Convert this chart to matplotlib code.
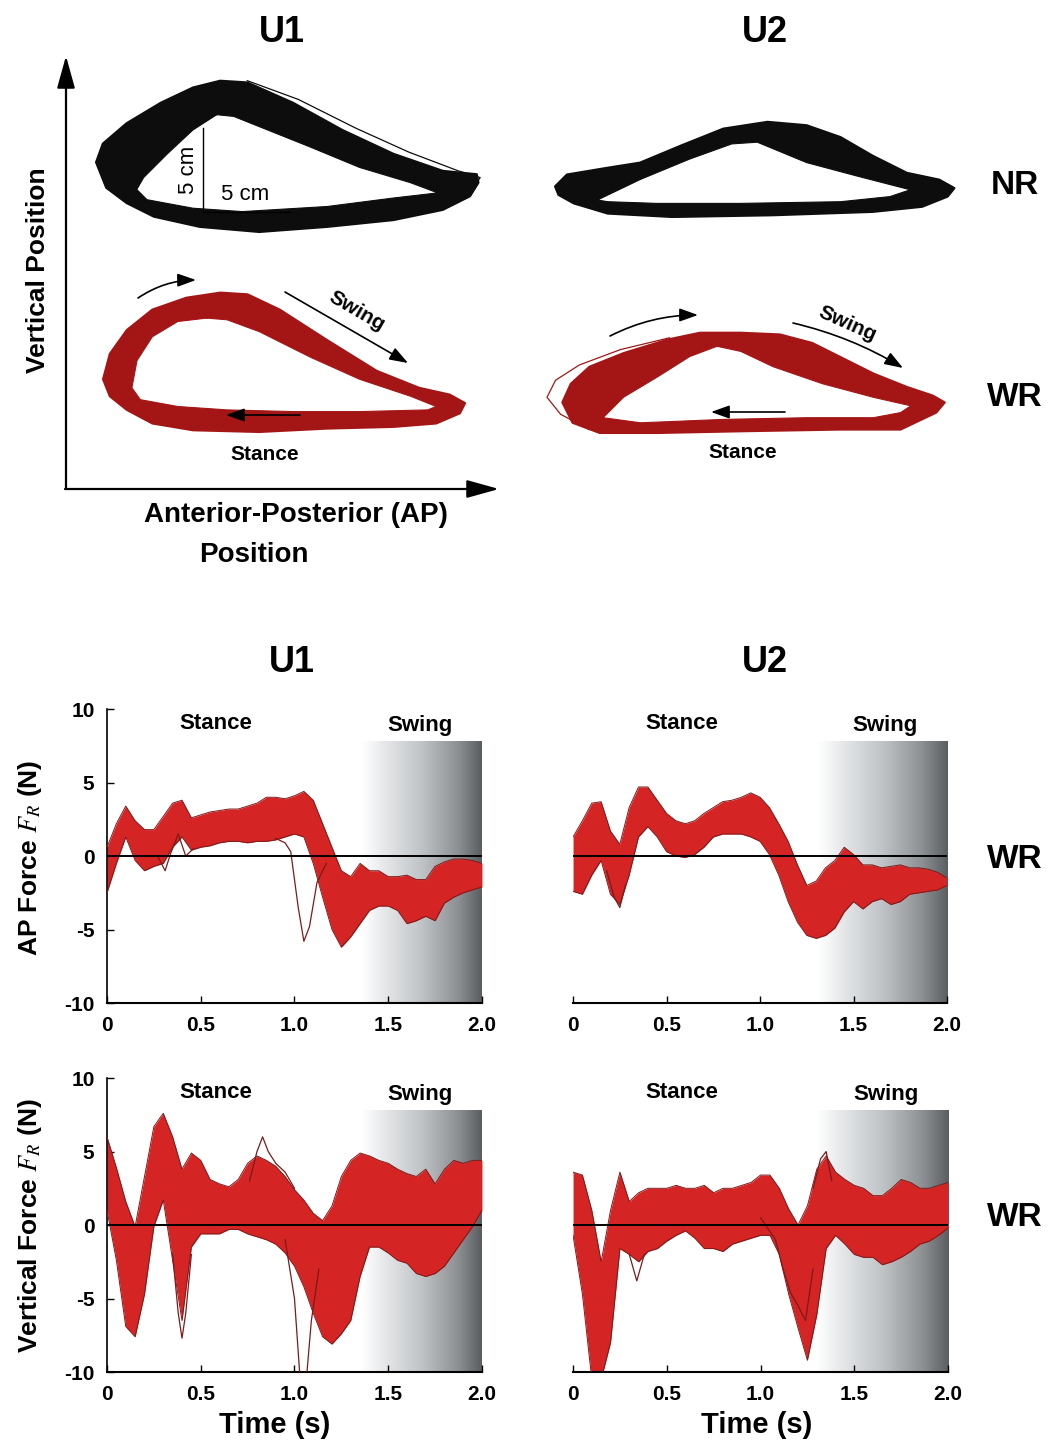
import numpy as np
import matplotlib.pyplot as plt
from matplotlib import transforms as mtransforms
from matplotlib.colors import LinearSegmentedColormap

plt.rcParams['font.family'] = ['Liberation Sans', 'DejaVu Sans']
plt.rcParams['mathtext.fontset'] = 'stix'

# ---------------- foot trajectories, cm from each loop's lower-left corner
U1_NR_OUT_X = [0.0, 0.4, 1.8, 3.8, 5.7, 7.3, 8.9, 11.6, 14.5, 17.5, 20.4, 22.4, 22.5, 22.0, 20.4, 17.5, 13.6, 9.6, 6.1, 3.4, 1.8, 0.6]
U1_NR_OUT_Y = [4.1, 5.2, 6.4, 7.6, 8.5, 8.9, 8.8, 7.6, 6.0, 4.6, 3.6, 3.4, 2.9, 2.1, 1.3, 0.7, 0.3, 0.0, 0.3, 0.9, 1.7, 2.6]
U1_NR_IN_X = [7.1, 5.7, 4.2, 2.8, 2.4, 3.0, 5.7, 8.6, 13.6, 17.5, 20.1, 18.5, 15.5, 12.6, 9.6, 8.1]
U1_NR_IN_Y = [6.9, 6.0, 4.6, 3.2, 2.5, 1.9, 1.4, 1.2, 1.5, 2.0, 2.3, 2.9, 3.8, 5.0, 6.2, 6.8]
U1_NR_STRAY_X = [8.9, 11.9, 15.3, 18.4, 21.3, 22.6, 22.2]
U1_NR_STRAY_Y = [8.9, 7.8, 6.1, 4.7, 3.6, 3.2, 2.6]

U1_WR_OUT_X = [0.0, 0.4, 1.4, 2.9, 4.9, 6.9, 8.5, 10.4, 13.2, 16.1, 18.6, 20.4, 21.3, 21.0, 19.6, 17.1, 13.2, 9.2, 5.3, 2.9, 1.4, 0.4]
U1_WR_OUT_Y = [3.1, 4.6, 6.0, 7.2, 7.9, 8.2, 8.1, 7.2, 5.4, 3.6, 2.6, 2.2, 1.7, 1.1, 0.5, 0.3, 0.2, 0.0, 0.1, 0.5, 1.3, 2.1]
U1_WR_IN_X = [6.1, 4.4, 2.9, 2.0, 1.7, 2.2, 4.4, 7.3, 11.2, 15.1, 19.1, 19.6, 18.1, 15.1, 12.2, 9.2, 7.3]
U1_WR_IN_Y = [6.7, 6.5, 5.6, 4.2, 2.6, 1.9, 1.5, 1.3, 1.2, 1.2, 1.3, 1.5, 2.1, 3.1, 4.4, 5.9, 6.6]

U2_NR_OUT_X = [0.0, 0.7, 3.1, 5.0, 7.4, 9.9, 12.5, 14.8, 16.8, 18.7, 20.7, 22.6, 23.5, 23.1, 21.6, 18.7, 12.8, 6.9, 3.1, 1.1, 0.2]
U2_NR_OUT_Y = [1.8, 2.5, 2.9, 3.2, 4.2, 5.2, 5.6, 5.4, 4.7, 3.6, 2.6, 2.2, 1.7, 1.2, 0.6, 0.3, 0.1, 0.0, 0.2, 0.8, 1.3]
U2_NR_IN_X = [2.5, 5.0, 7.9, 10.4, 11.9, 14.8, 17.8, 20.9, 19.7, 16.8, 10.9, 6.0, 3.1]
U2_NR_IN_Y = [1.0, 2.2, 3.4, 4.3, 4.4, 3.2, 2.4, 1.6, 1.2, 0.9, 0.8, 0.8, 0.9]

U2_WR_OUT_X = [0.9, 1.4, 2.5, 4.5, 7.1, 9.0, 11.4, 13.7, 15.6, 17.2, 19.2, 21.2, 22.7, 23.4, 22.9, 20.8, 17.2, 11.4, 6.5, 3.1, 1.5]
U2_WR_OUT_Y = [1.8, 2.9, 3.9, 4.7, 5.5, 5.9, 5.9, 5.8, 5.3, 4.5, 3.5, 2.7, 2.2, 1.8, 1.2, 0.2, 0.2, 0.1, 0.0, 0.0, 0.6]
U2_WR_IN_X = [10.0, 8.4, 6.5, 4.5, 3.3, 5.5, 10.4, 15.3, 19.2, 20.8, 21.4, 19.2, 16.2, 13.3, 11.4]
U2_WR_IN_Y = [5.1, 4.5, 3.3, 2.1, 0.9, 0.6, 0.8, 0.9, 0.9, 1.2, 1.6, 2.1, 2.9, 3.9, 4.8]
U2_WR_STRAY_X = [2.5, 0.8, 0.0, 0.5, 1.9, 4.3, 7.2]
U2_WR_STRAY_Y = [0.2, 1.1, 2.1, 3.1, 4.0, 4.9, 5.6]

# ---------------- reaction forces (N), envelope of all steps
TIME = [0.0, 0.05, 0.1, 0.15, 0.2, 0.25, 0.3, 0.35, 0.4, 0.45, 0.5, 0.55, 0.6, 0.65,
        0.7, 0.75, 0.8, 0.85, 0.9, 0.95, 1.0, 1.05, 1.1, 1.15, 1.2, 1.25, 1.3, 1.35,
        1.4, 1.45, 1.5, 1.55, 1.6, 1.65, 1.7, 1.75, 1.8, 1.85, 1.9, 1.95, 2.0]

AP_U1_HI = [0.6, 2.2, 3.4, 2.4, 1.8, 1.8, 2.7, 3.6, 3.8, 2.6, 2.8, 3.0, 3.1, 3.2, 3.2, 3.4, 3.6, 4.0, 4.0, 3.9, 4.1,
            4.4, 3.8, 2.2, 0.6, -1.0, -1.4, -0.5, -1.0, -1.0, -1.4, -1.4, -1.3, -1.6, -1.6, -0.7, -0.4, -0.2, -0.2, -0.3, -0.5]
AP_U1_LO = [-2.5, -0.5, 1.3, -0.3, -1.0, -0.7, -0.5, 0.6, 1.3, 0.4, 0.6, 0.7, 0.9, 1.0, 1.0, 0.9, 1.0, 1.0, 1.1, 1.3, 1.5,
            1.3, -0.5, -2.8, -5.0, -6.2, -5.5, -4.6, -3.7, -3.4, -3.4, -3.7, -4.6, -4.4, -4.1, -4.4, -3.2, -2.8, -2.5, -2.3, -2.1]

AP_U2_HI = [1.3, 2.4, 3.6, 3.7, 1.7, 0.8, 3.3, 4.7, 4.7, 3.8, 2.9, 2.4, 2.2, 2.4, 2.9, 3.3, 3.7, 3.8, 4.0, 4.3, 4.0,
            3.3, 2.2, 1.0, -0.6, -2.0, -1.7, -0.8, -0.3, 0.6, 0.1, -0.6, -0.6, -0.8, -0.7, -0.6, -0.8, -0.8, -0.9, -1.1, -1.5]
AP_U2_LO = [-2.4, -2.6, -1.3, -0.3, -2.6, -3.3, -1.3, 1.3, 2.0, 1.3, 0.3, 0.0, -0.1, 0.1, 0.6, 1.3, 1.5, 1.5, 1.5, 1.3, 1.0,
            0.1, -1.3, -3.1, -4.5, -5.4, -5.6, -5.4, -4.9, -3.8, -3.1, -3.6, -3.1, -2.9, -3.3, -3.1, -2.6, -2.5, -2.4, -2.3, -2.0]

VF_U1_HI = [6.0, 3.9, 1.6, -0.1, 3.3, 6.7, 7.6, 6.0, 3.8, 4.9, 4.4, 3.1, 2.8, 2.6, 3.1, 4.2, 4.7, 4.4, 4.0, 3.3, 2.4,
            1.7, 0.8, 0.3, 1.3, 3.3, 4.4, 4.9, 4.7, 4.4, 4.2, 3.8, 3.5, 3.3, 3.8, 2.8, 3.8, 4.4, 4.2, 4.4, 4.4]
VF_U1_LO = [1.0, -2.4, -6.9, -7.6, -4.7, -0.1, 1.7, -2.4, -6.5, -1.5, -0.6, -0.6, -0.6, -0.3, -0.3, -0.6, -0.8, -1.0, -1.3, -1.9, -2.8,
            -4.2, -6.0, -7.6, -8.1, -7.4, -6.5, -3.5, -1.5, -1.5, -1.9, -2.4, -2.6, -3.3, -3.5, -3.3, -2.8, -1.9, -1.0, -0.1, 1.0]

VF_U2_HI = [3.6, 3.4, 1.0, -2.5, 1.0, 3.6, 1.6, 2.2, 2.5, 2.5, 2.5, 2.7, 2.5, 2.5, 2.7, 2.2, 2.5, 2.5, 2.7, 2.9, 3.4,
            3.4, 2.5, 1.1, 0.0, 1.3, 3.8, 4.7, 3.6, 3.1, 2.7, 2.5, 2.0, 2.0, 2.5, 3.1, 2.9, 2.5, 2.5, 2.7, 2.9]
VF_U2_LO = [-0.7, -4.7, -10.5, -10.5, -8.0, -1.6, -2.0, -2.5, -1.8, -1.6, -1.1, -0.7, -0.4, -0.9, -1.6, -1.6, -1.8, -1.3, -1.1, -0.9, -0.7,
            -0.7, -2.0, -4.7, -7.0, -9.2, -6.1, -1.6, -0.7, -1.3, -2.0, -2.2, -2.2, -2.7, -2.5, -2.2, -1.8, -1.3, -1.1, -0.7, -0.2]

# single steps that leave the bundle
AP_U1_ODD = [([0.90, 0.95, 0.98, 1.02, 1.05, 1.08, 1.12, 1.17], [1.2, 0.9, 0.3, -3.5, -5.8, -4.8, -1.8, -0.5]),
             ([0.27, 0.31, 0.34, 0.38, 0.42, 0.46], [0.0, -1.0, 0.2, 1.5, 0.0, 0.5])]
AP_U2_ODD = [([0.18, 0.22, 0.25, 0.28], [-1.0, -2.8, -3.5, -2.0])]
VF_U1_ODD = [([0.95, 1.0, 1.03, 1.06, 1.09, 1.13], [-1.0, -5.0, -10.5, -11.0, -6.5, -3.0]),
             ([0.35, 0.38, 0.40, 0.42, 0.45], [-2.0, -6.0, -7.7, -6.0, -2.0]),
             ([0.76, 0.80, 0.83, 0.86, 0.90, 0.95, 1.0], [3.0, 5.0, 6.0, 5.0, 4.2, 3.6, 2.5])]
VF_U2_ODD = [([1.0, 1.08, 1.12, 1.16, 1.2, 1.24, 1.28], [0.5, -1.0, -3.0, -4.6, -5.5, -6.5, -3.0]),
             ([0.30, 0.34, 0.38], [-2.0, -3.8, -2.0]),
             ([1.28, 1.32, 1.35, 1.38], [2.5, 4.5, 5.0, 3.0])]

XTICKS = [0, 0.5, 1.0, 1.5, 2.0]
XTICK_LABELS = ['0', '0.5', '1.0', '1.5', '2.0']
YTICKS = [-10, -5, 0, 5, 10]
YTICK_LABELS = ['-10', '-5', '0', '5', '10']

BLACK = '#0d0d0d'
LOOP_RED = '#a41616'
FORCE_RED = '#d42424'
EDGE_RED = '#7d1a1a'
PX_PER_CM = 17

fig = plt.figure(figsize=(10.48, 14.43), dpi=100)
top = fig.add_axes([0, 0, 1, 1])
top.set_xlim(0, 1048)
top.set_ylim(1443, 0)
top.axis('off')


def draw_loop(ox, oy, out_x, out_y, in_x, in_y, color, strays=()):
    tr = mtransforms.Affine2D().scale(PX_PER_CM, -PX_PER_CM).translate(ox, oy) + top.transData
    top.fill(out_x, out_y, facecolor=color, edgecolor=color, lw=1.5, transform=tr, joinstyle='round')
    top.fill(in_x, in_y, facecolor='white', edgecolor='none', transform=tr)
    top.plot(in_x + in_x[:1], in_y + in_y[:1], color=color, lw=0.8, transform=tr)
    for sx, sy in strays:
        top.plot(sx, sy, color=color, lw=0.9, transform=tr)


draw_loop(96, 232, U1_NR_OUT_X, U1_NR_OUT_Y, U1_NR_IN_X, U1_NR_IN_Y, BLACK,
          [(U1_NR_STRAY_X, U1_NR_STRAY_Y)])
draw_loop(103, 432, U1_WR_OUT_X, U1_WR_OUT_Y, U1_WR_IN_X, U1_WR_IN_Y, LOOP_RED)
draw_loop(555, 217, U2_NR_OUT_X, U2_NR_OUT_Y, U2_NR_IN_X, U2_NR_IN_Y, BLACK)
draw_loop(547, 433, U2_WR_OUT_X, U2_WR_OUT_Y, U2_WR_IN_X, U2_WR_IN_Y, LOOP_RED,
          [(U2_WR_STRAY_X, U2_WR_STRAY_Y)])

# position axes arrows
big = dict(arrowstyle='-|>,head_length=0.9,head_width=0.25', color='black', lw=1.6,
           mutation_scale=22, shrinkA=0, shrinkB=0)
top.annotate('', xy=(66, 56), xytext=(66, 489), arrowprops=big)
top.annotate('', xy=(499, 489), xytext=(65, 489), arrowprops=big)

small = dict(arrowstyle='-|>,head_length=0.7,head_width=0.25', color='black', lw=1.2,
             mutation_scale=16, shrinkA=0, shrinkB=0)
top.annotate('', xy=(196, 280), xytext=(138, 298), arrowprops=dict(small, connectionstyle='arc3,rad=-0.15'))
top.annotate('', xy=(408, 363), xytext=(285, 292), arrowprops=small)
top.annotate('', xy=(226, 415), xytext=(300, 415), arrowprops=small)
top.annotate('', xy=(698, 315), xytext=(610, 336), arrowprops=dict(small, connectionstyle='arc3,rad=-0.12'))
top.annotate('', xy=(903, 368), xytext=(793, 323), arrowprops=dict(small, connectionstyle='arc3,rad=-0.08'))
top.annotate('', xy=(711, 412), xytext=(785, 412), arrowprops=small)

# scale bar
top.plot([203, 203, 290], [128, 212, 212], color='black', lw=1.0)
top.text(188, 170, '5 cm', rotation=90, ha='center', va='center', fontsize=16)
top.text(245, 195, '5 cm', ha='center', va='center', fontsize=16)

# labels of the position part
top.text(282, 33, 'U1', ha='center', va='center', fontsize=26, fontweight='bold')
top.text(765, 33, 'U2', ha='center', va='center', fontsize=26, fontweight='bold')
top.text(1015, 185, 'NR', ha='center', va='center', fontsize=24, fontweight='bold')
top.text(1015, 398, 'WR', ha='center', va='center', fontsize=24, fontweight='bold')
top.text(38, 270, 'Vertical Position', rotation=90, ha='center', va='center', fontsize=19, fontweight='bold')
top.text(296, 515, 'Anterior-Posterior (AP)', ha='center', va='center', fontsize=20, fontweight='bold')
top.text(254, 555, 'Position', ha='center', va='center', fontsize=20, fontweight='bold')
top.text(357, 311, 'Swing', rotation=-30, ha='center', va='center', fontsize=15, fontweight='bold')
top.text(265, 455, 'Stance', ha='center', va='center', fontsize=15, fontweight='bold')
top.text(847, 324, 'Swing', rotation=-24, ha='center', va='center', fontsize=15, fontweight='bold')
top.text(743, 453, 'Stance', ha='center', va='center', fontsize=15, fontweight='bold')

# labels of the force part
top.text(292, 663, 'U1', ha='center', va='center', fontsize=26, fontweight='bold')
top.text(765, 663, 'U2', ha='center', va='center', fontsize=26, fontweight='bold')
top.text(1015, 860, 'WR', ha='center', va='center', fontsize=24, fontweight='bold')
top.text(1015, 1218, 'WR', ha='center', va='center', fontsize=24, fontweight='bold')
top.text(30, 858, r'AP Force $F_R$ (N)', rotation=90, ha='center', va='center', fontsize=19, fontweight='bold')
top.text(30, 1225, r'Vertical Force $F_R$ (N)', rotation=90, ha='center', va='center', fontsize=19, fontweight='bold')
top.text(275, 1425, 'Time (s)', ha='center', va='center', fontsize=21, fontweight='bold')
top.text(757, 1425, 'Time (s)', ha='center', va='center', fontsize=21, fontweight='bold')

shade = LinearSegmentedColormap.from_list(
    'swing', [(0.0, '#ffffff'), (0.2, '#e4e6e8'), (0.5, '#bfc3c6'), (0.8, '#8d9194'), (1.0, '#5a5e61')])
GRAD = np.linspace(0, 1, 256).reshape(1, -1)


def force_panel(rect, hi, lo, odd, shade_from, show_y):
    ax = fig.add_axes(rect)
    ax.patch.set_alpha(0)
    ax.imshow(GRAD, extent=[shade_from, 2.0, -10, 7.8], aspect='auto', cmap=shade, zorder=0)
    ax.fill_between(TIME, lo, hi, color=FORCE_RED, lw=0, zorder=2)
    ax.plot(TIME, hi, color=EDGE_RED, lw=0.7, zorder=3)
    ax.plot(TIME, lo, color=EDGE_RED, lw=0.7, zorder=3)
    for t, v in odd:
        ax.plot(t, v, color=EDGE_RED, lw=0.9, zorder=3)
    ax.axhline(0, color='black', lw=1.4, zorder=4)
    ax.set_xlim(0, 2.0)
    ax.set_ylim(-10, 10)
    ax.spines['top'].set_visible(False)
    ax.spines['right'].set_visible(False)
    ax.spines['bottom'].set_linewidth(1.5)
    ax.spines['left'].set_linewidth(1.2)
    ax.set_xticks(XTICKS, XTICK_LABELS, fontsize=15, fontweight='bold')
    if show_y:
        ax.set_yticks(YTICKS, YTICK_LABELS, fontsize=15, fontweight='bold')
    else:
        ax.spines['left'].set_visible(False)
        ax.set_yticks([])
    ax.tick_params(direction='in', length=5, width=1, pad=9)
    ax.text(0.58, 9.0, 'Stance', ha='center', va='center', fontsize=16, fontweight='bold')
    ax.text(1.67, 8.9, 'Swing', ha='center', va='center', fontsize=16, fontweight='bold')
    return ax


force_panel([0.1021, 0.3049, 0.3578, 0.2037], AP_U1_HI, AP_U1_LO, AP_U1_ODD, 1.36, True)
force_panel([0.5468, 0.3049, 0.3569, 0.2037], AP_U2_HI, AP_U2_LO, AP_U2_ODD, 1.31, False)
force_panel([0.1021, 0.0492, 0.3578, 0.2037], VF_U1_HI, VF_U1_LO, VF_U1_ODD, 1.36, True)
force_panel([0.5468, 0.0492, 0.3578, 0.2037], VF_U2_HI, VF_U2_LO, VF_U2_ODD, 1.30, False)

fig.savefig('out.png', dpi=100, facecolor='white')
